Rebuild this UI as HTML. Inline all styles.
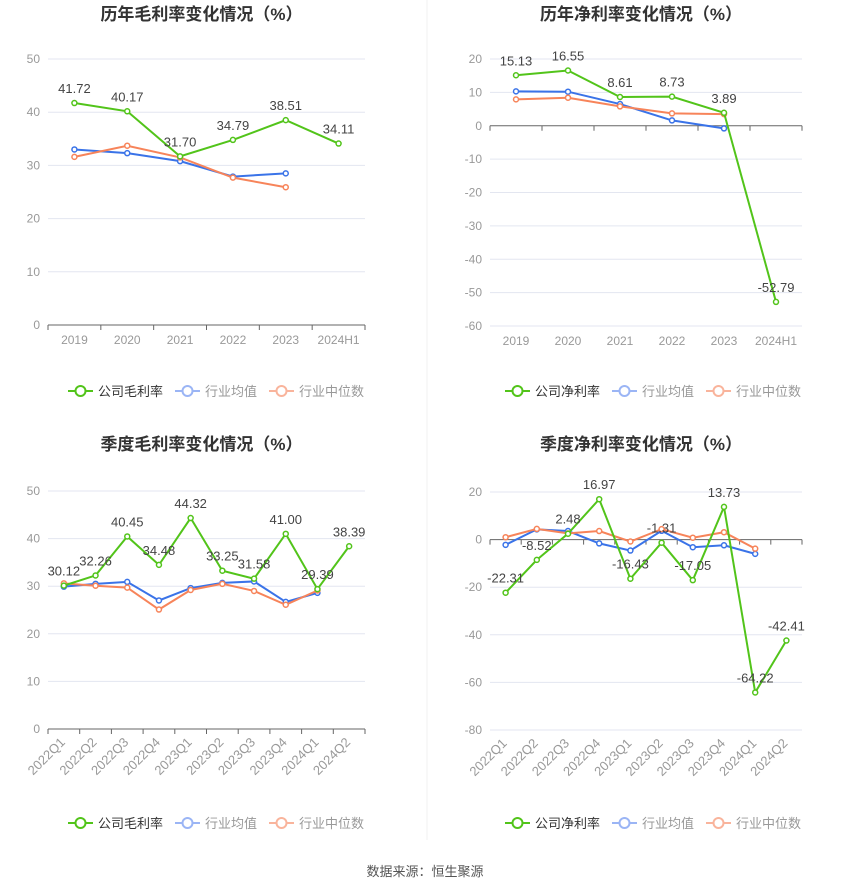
<!DOCTYPE html>
<html><head><meta charset="utf-8">
<style>
body{margin:0;background:#fff;width:850px;height:891px;overflow:hidden;font-family:"Liberation Sans","Noto Sans CJK SC",sans-serif;}
svg{position:absolute;left:0;top:0}
</style></head>
<body>
<svg id="s" width="850" height="891" xmlns="http://www.w3.org/2000/svg">
<line x1="427" y1="0" x2="427" y2="840" stroke="#f0f0f0"/>
<text x="425" y="876" font-size="13" fill="#555" text-anchor="middle">数据来源：恒生聚源</text>
</svg>
<script>
// Chart 1: annual gross margin
const c1Cats=["2019","2020","2021","2022","2023","2024H1"];
const c1Company=[41.72,40.17,31.70,34.79,38.51,34.11];
const c1Avg=[33.0,32.3,30.8,27.9,28.5];
const c1Median=[31.6,33.7,31.5,27.7,25.9];
const c1Ticks=[0,10,20,30,40,50];
// Chart 2: annual net margin
const c2Cats=["2019","2020","2021","2022","2023","2024H1"];
const c2Company=[15.13,16.55,8.61,8.73,3.89,-52.79];
const c2Avg=[10.3,10.2,6.5,1.6,-0.8];
const c2Median=[7.9,8.4,5.8,3.7,3.5];
const c2Ticks=[-60,-50,-40,-30,-20,-10,0,10,20];
// Chart 3: quarterly gross margin
const c3Cats=["2022Q1","2022Q2","2022Q3","2022Q4","2023Q1","2023Q2","2023Q3","2023Q4","2024Q1","2024Q2"];
const c3Company=[30.12,32.26,40.45,34.48,44.32,33.25,31.58,41.00,29.39,38.39];
const c3Avg=[29.9,30.5,30.9,27.0,29.6,30.7,31.0,26.7,28.6];
const c3Median=[30.6,30.1,29.7,25.1,29.2,30.5,29.0,26.1,29.1];
const c3Ticks=[0,10,20,30,40,50];
// Chart 4: quarterly net margin
const c4Cats=["2022Q1","2022Q2","2022Q3","2022Q4","2023Q1","2023Q2","2023Q3","2023Q4","2024Q1","2024Q2"];
const c4Company=[-22.31,-8.52,2.48,16.97,-16.43,-1.31,-17.05,13.73,-64.22,-42.41];
const c4Avg=[-2.2,4.3,3.6,-1.6,-4.6,3.7,-3.2,-2.4,-6.0];
const c4Median=[1.0,4.5,2.6,3.6,-0.8,4.4,0.8,3.1,-3.8];
const c4Ticks=[-80,-60,-40,-20,0,20];

const NS="http://www.w3.org/2000/svg";
const svg=document.getElementById('s');
function mk(tag,attrs,parent){const e=document.createElementNS(NS,tag);for(const k in attrs)e.setAttribute(k,attrs[k]);(parent||svg).appendChild(e);return e;}
const GREEN="#52c41a",BLUE="#3a73e8",ORANGE="#f7845a";

function chart(cfg){
  const g=mk('g',{});
  
  
  const n=cfg.cats.length;
  const step=(cfg.x1-cfg.x0)/n;
  const xs=i=>cfg.x0+step*(i+0.5);
  const min=cfg.ticks[0],max=cfg.ticks[cfg.ticks.length-1];
  const ys=v=>cfg.yBot-(v-min)/(max-min)*(cfg.yBot-cfg.yTop);
  const t=mk('text',{x:(cfg.x0+cfg.x1)/2-5,y:cfg.titleY,'font-size':17,'font-weight':'bold',fill:'#333','text-anchor':'middle'},g);
  t.textContent=cfg.title;
  
  
  cfg.ticks.forEach(v=>{
    const y=ys(v);
    if(v!==cfg.axisAt){const l=mk('line',{x1:cfg.x0,x2:cfg.x1,y1:y,y2:y,stroke:'#e3e6f0'},g);
      }
    const tx=mk('text',{x:cfg.x0-8,y:y+4,'font-size':12,fill:'#999','text-anchor':'end'},g);
    tx.textContent=v;
    
    
  });
  const ay=ys(cfg.axisAt);
  const ax=mk('line',{x1:cfg.x0,x2:cfg.x1,y1:ay,y2:ay,stroke:'#666'},g);
  
  for(let i=0;i<=n;i++){const x=cfg.x0+step*i;mk('line',{x1:x,x2:x,y1:ay,y2:ay+5,stroke:'#666'},g);}
  cfg.cats.forEach((c,i)=>{
    let tx;
    if(cfg.rotate){
      const x=xs(i)+2,y=cfg.yBot+14;
      tx=mk('text',{x:x,y:y,'font-size':13,fill:'#999','text-anchor':'end',transform:`rotate(-45 ${x} ${y})`},g);
    } else tx=mk('text',{x:xs(i),y:cfg.yBot+19,'font-size':12,fill:'#999','text-anchor':'middle'},g);
    tx.textContent=c;
    
    
  });
  function series(vals,color,name,labels){
    const pts=vals.map((v,i)=>xs(i)+','+ys(v)).join(' ');
    const pl=mk('polyline',{points:pts,fill:'none',stroke:color,'stroke-width':2},g);
    
    
    vals.forEach((v,i)=>{
      const c=mk('circle',{cx:xs(i),cy:ys(v),r:2.5,fill:'#fff',stroke:color,'stroke-width':1.5},g);
      
      
      if(labels){
        const lt=mk('text',{x:xs(i),y:ys(v)-10,'font-size':13,fill:'#444','text-anchor':'middle'},g);
        lt.textContent=v.toFixed(2);
        
        
      }
    });
  }
  series(cfg.avg,BLUE,'industry-average',false);
  series(cfg.median,ORANGE,'industry-median',false);
  series(cfg.company,GREEN,'company',true);
  const lx=cfg.legendX,ly=cfg.legendY;
  const items=[[cfg.compName,GREEN,'#333'],['行业均值','#9bb5f5','#999'],['行业中位数','#f9b49c','#999']];
  let x=lx;
  items.forEach((it,k)=>{
    const lg=mk('g',{},g);
    
    
    mk('line',{x1:x,x2:x+25,y1:ly,y2:ly,stroke:it[1],'stroke-width':2},lg);
    mk('circle',{cx:x+12.5,cy:ly,r:5,fill:'#fff',stroke:it[1],'stroke-width':2},lg);
    const tt=mk('text',{x:x+30,y:ly+5,'font-size':13,fill:it[2]},lg);
    tt.textContent=it[0];
    x+=30+it[0].length*13+12;
  });
}
chart({name:'annual-gross-margin-chart',title:'历年毛利率变化情况（%）',titleY:20,x0:48,x1:365,yTop:59,yBot:325,ticks:c1Ticks,axisAt:0,cats:c1Cats,company:c1Company,avg:c1Avg,median:c1Median,compName:'公司毛利率',legendX:68,legendY:391});
chart({name:'annual-net-margin-chart',title:'历年净利率变化情况（%）',titleY:20,x0:490,x1:802,yTop:59,yBot:326,ticks:c2Ticks,axisAt:0,cats:c2Cats,company:c2Company,avg:c2Avg,median:c2Median,compName:'公司净利率',legendX:505,legendY:391});
chart({name:'quarterly-gross-margin-chart',title:'季度毛利率变化情况（%）',titleY:450,x0:48,x1:365,yTop:491,yBot:729,ticks:c3Ticks,axisAt:0,cats:c3Cats,company:c3Company,avg:c3Avg,median:c3Median,compName:'公司毛利率',legendX:68,legendY:823,rotate:true});
chart({name:'quarterly-net-margin-chart',title:'季度净利率变化情况（%）',titleY:450,x0:490,x1:802,yTop:492,yBot:730,ticks:c4Ticks,axisAt:0,cats:c4Cats,company:c4Company,avg:c4Avg,median:c4Median,compName:'公司净利率',legendX:505,legendY:823,rotate:true});
</script>
</body></html>
